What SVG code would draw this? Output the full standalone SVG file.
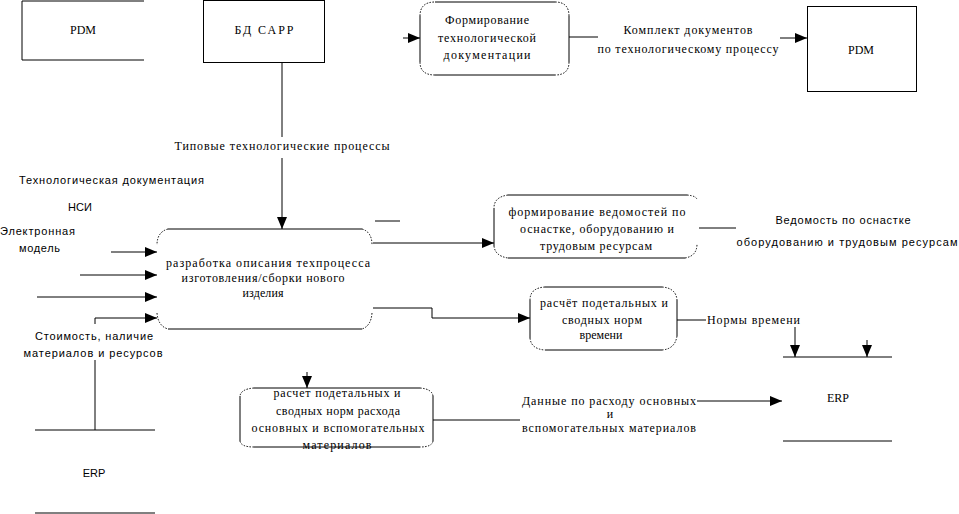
<svg xmlns="http://www.w3.org/2000/svg" width="959" height="514" viewBox="0 0 959 514">
<style>
  .ln{fill:none;stroke:#000;stroke-width:1}
  .dot{fill:none;stroke:#000;stroke-width:1;stroke-dasharray:1.5 1.5}
  .s{font-family:"Liberation Serif","Times New Roman",serif;font-size:12px;fill:#000}
  .a{font-family:"Liberation Sans",Arial,sans-serif;font-size:11px;fill:#000}
  .arr{marker-end:url(#ah)}
</style>
<defs>
  <marker id="ah" markerUnits="userSpaceOnUse" markerWidth="12" markerHeight="10" refX="12" refY="5" orient="auto">
    <path d="M0,0 L12,5 L0,10 z" fill="#000"/>
  </marker>
</defs>
<rect width="959" height="514" fill="#fff"/>

<g id="pdm-left">
  <path class="ln" d="M144,1 H22 V60 H144"/>
  <text class="s" x="83" y="34" text-anchor="middle">PDM</text>
</g>
<g id="bd-sapr">
  <rect class="ln" x="203.5" y="0.5" width="121" height="62"/>
  <text class="s" x="264" y="34" text-anchor="middle" textLength="59">БД САРР</text>
</g>
<g id="form-doc">
  <path class="ln" d="M435,2 H555 M569,16 V62 M555,75 H435 M420,62 V16"/>
  <path class="dot" d="M555,2 Q569,2 569,16 M569,62 Q569,75 555,75 M435,75 Q420,75 420,62 M420,16 Q420,2 435,2"/>
  <text class="s" x="487" y="24" text-anchor="middle" textLength="84">Формирование</text>
  <text class="s" x="487" y="42" text-anchor="middle" textLength="98">технологической</text>
  <text class="s" x="487" y="59" text-anchor="middle" textLength="87">документации</text>
</g>
<g id="pdm-right">
  <rect class="ln" x="807.5" y="6.5" width="109" height="85"/>
  <text class="s" x="861" y="54" text-anchor="middle">PDM</text>
</g>
<g id="main-process">
  <path class="ln" d="M168,229 H362 M168,329 H362"/>
  <path class="dot" d="M168,229 Q157,232 157,245 M157,313 Q158,326 168,329 M362,229 Q372,232 372,245 M372,313 Q371,326 362,329"/>
  <text class="s" x="268" y="267" text-anchor="middle" textLength="204">разработка описания техпроцесса</text>
  <text class="s" x="263" y="282" text-anchor="middle" textLength="163">изготовления/сборки нового</text>
  <text class="s" x="263" y="297" text-anchor="middle" textLength="41">изделия</text>
</g>
<g id="form-vedom">
  <path class="ln" d="M508,195 H687 M508,258 H685 M494,208 V246"/>
  <path class="dot" d="M508,195 Q494,197 494,208 M494,246 Q495,256 508,258 M687,195 Q697,196 697,200 M685,258 Q697,256 697,244"/>
  <text class="s" x="597" y="216" text-anchor="middle" textLength="177">формирование ведомостей по</text>
  <text class="s" x="597" y="233" text-anchor="middle" textLength="154">оснастке, оборудованию и</text>
  <text class="s" x="596" y="250" text-anchor="middle" textLength="112">трудовым  ресурсам</text>
</g>
<g id="norm-time">
  <path class="ln" d="M545,287 H662 M545,350 H662 M530,300 V338 M677,300 V336"/>
  <path class="dot" d="M545,287 Q530,288 530,300 M530,338 Q531,349 545,350 M662,287 Q676,288 677,300 M677,336 Q675,349 662,350"/>
  <text class="s" x="604" y="307" text-anchor="middle" textLength="128">расчёт подетальных и</text>
  <text class="s" x="602" y="324" text-anchor="middle" textLength="80">сводных норм</text>
  <text class="s" x="601" y="339" text-anchor="middle">времени</text>
</g>
<g id="norm-material">
  <path class="ln" d="M254,388 H420 M254,447 H420 M240,396 V441 M433,396 V441"/>
  <path class="dot" d="M254,388 Q241,389 240,396 M240,441 Q241,447 254,447 M420,388 Q432,389 433,396 M433,441 Q432,447 420,447"/>
  <text class="s" x="337" y="397" text-anchor="middle" textLength="127">расчет подетальных и</text>
  <text class="s" x="338" y="415" text-anchor="middle" textLength="124">сводных норм расхода</text>
  <text class="s" x="338" y="432" text-anchor="middle" textLength="173">основных и вспомогательных</text>
  <text class="s" x="337" y="449" text-anchor="middle" textLength="69">материалов</text>
</g>
<g id="erp-left">
  <path class="ln" d="M35,430 H155 M35,513 H155"/>
  <text class="a" x="94" y="477" text-anchor="middle">ERP</text>
</g>
<g id="erp-right">
  <path class="ln" d="M783,357 H892 M783,441 H892"/>
  <text class="s" x="838" y="402" text-anchor="middle">ERP</text>
</g>

<g id="connectors">
  <path class="ln" d="M282,62 V137"/>
  <path class="ln arr" d="M282,158 V229"/>
  <path class="ln arr" d="M403,38 H420"/>
  <path class="ln" d="M569,37 H598"/>
  <path class="ln arr" d="M780,38 H807"/>
  <path class="ln arr" d="M111,252 H157"/>
  <path class="ln arr" d="M80,275 H157"/>
  <path class="ln arr" d="M37,297 H157"/>
  <path class="ln" d="M95,430 V360"/>
  <path class="ln arr" d="M95,324 V318 H157"/>
  <path class="ln" d="M375,221 H400"/>
  <path class="ln arr" d="M373,243 H494"/>
  <path class="ln arr" d="M373,308 H432 V318 H530"/>
  <path class="ln" d="M699,228 H736"/>
  <path class="ln" d="M677,320 H706"/>
  <path class="ln arr" d="M795,327 V357"/>
  <path class="ln arr" d="M867,340 V357"/>
  <path class="ln arr" d="M307,372 V388"/>
  <path class="ln" d="M433,420 H520"/>
  <path class="ln arr" d="M697,401 H782"/>
</g>

<g id="labels">
  <text class="s" x="282" y="150" text-anchor="middle" textLength="215">Типовые технологические процессы</text>
  <text class="s" x="688" y="34" text-anchor="middle" textLength="129">Комплект документов</text>
  <text class="s" x="688" y="53" text-anchor="middle" textLength="181">по технологическому процессу</text>
  <text class="a" x="19" y="184" textLength="185">Технологическая документация</text>
  <text class="a" x="80" y="211" text-anchor="middle">НСИ</text>
  <text class="a" x="0" y="235" textLength="75">Электронная</text>
  <text class="a" x="19" y="252" textLength="41">модель</text>
  <text class="a" x="94" y="340" text-anchor="middle" textLength="118">Стоимость, наличие</text>
  <text class="a" x="93" y="357" text-anchor="middle" textLength="139">материалов и ресурсов</text>
  <text class="a" x="843" y="224" text-anchor="middle" textLength="135">Ведомость по оснастке</text>
  <text class="a" x="847" y="246" text-anchor="middle" textLength="221">оборудованию и трудовым ресурсам</text>
  <text class="s" x="707" y="324" textLength="93">Нормы  времени</text>
  <text class="s" x="609" y="405" text-anchor="middle" textLength="174">Данные по расходу основных</text>
  <text class="s" x="610" y="418" text-anchor="middle">и</text>
  <text class="s" x="609" y="432" text-anchor="middle" textLength="174">вспомогательных материалов</text>
</g>
</svg>
